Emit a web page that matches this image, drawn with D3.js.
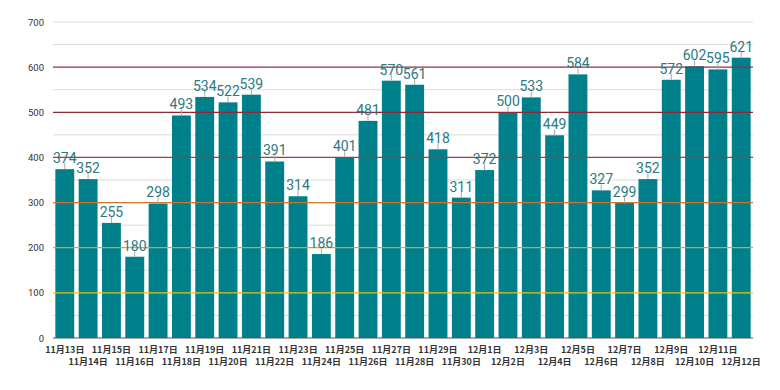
<!DOCTYPE html>
<html><head><meta charset="utf-8">
<script src="https://cdn.jsdelivr.net/npm/d3@7"></script>
<style>body{margin:0;background:#fff}svg{display:block}</style>
</head><body>
<svg id="c" width="780" height="390"></svg>
<script>
const categories = ["11月13日","11月14日","11月15日","11月16日","11月17日","11月18日","11月19日","11月20日","11月21日","11月22日","11月23日","11月24日","11月25日","11月26日","11月27日","11月28日","11月29日","11月30日","12月1日","12月2日","12月3日","12月4日","12月5日","12月6日","12月7日","12月8日","12月9日","12月10日","12月11日","12月12日"];
const values = [374,352,255,180,298,493,534,522,539,391,314,186,401,481,570,561,418,311,372,500,533,449,584,327,299,352,572,602,595,621];
const yTicks = [0,100,200,300,400,500,600,700];
const minorTicks = [50,150,250,350,450,550,650];
const bandLines = [
  {v:100,c:"#e6c619"},{v:200,c:"#d6a526"},{v:300,c:"#d2742e"},
  {v:400,c:"#c0302e"},{v:500,c:"#8e2a38"},{v:600,c:"#8c3048"}
];
const svg = d3.select("#c");
const m = {l:53,r:27,t:22,b:52};
const W = 780, H = 390;
const x = d3.scaleBand().domain(categories).range([m.l, W-m.r]).paddingInner(0.19).paddingOuter(0.1);
const y = d3.scaleLinear().domain([0,700]).range([338,22]);
// light grid
svg.append("g").selectAll("line").data(minorTicks.concat([700])).join("line")
  .attr("x1",m.l).attr("x2",W-m.r).attr("y1",d=>y(d)).attr("y2",d=>y(d))
  .attr("stroke","#dcdcdc").attr("stroke-width",1);
// bars
svg.append("g").selectAll("rect").data(values).join("rect")
  .attr("x",(d,i)=>x(categories[i])).attr("width",x.bandwidth())
  .attr("y",d=>y(d)).attr("height",d=>y(0)-y(d)).attr("fill","#00808a");
// colored lines on top
svg.append("g").selectAll("line").data(bandLines).join("line")
  .attr("x1",m.l).attr("x2",W-m.r).attr("y1",d=>y(d.v)).attr("y2",d=>y(d.v))
  .attr("stroke",d=>d.c).attr("stroke-width",1.3);
// baseline
svg.append("line").attr("x1",m.l).attr("x2",W-m.r).attr("y1",y(0)).attr("y2",y(0))
  .attr("stroke","#555").attr("stroke-width",1);
// y labels
svg.append("g").selectAll("text").data(yTicks).join("text")
  .attr("x",44).attr("y",d=>y(d)+3.5).attr("text-anchor","end")
  .attr("font-family","Roboto, Arial, sans-serif").attr("font-size",9.5).attr("fill","#333")
  .text(d=>d);
// leader lines + value labels
const lab = svg.append("g");
lab.selectAll("line").data(values).join("line")
  .attr("x1",(d,i)=>x(categories[i])+x.bandwidth()/2).attr("x2",(d,i)=>x(categories[i])+x.bandwidth()/2)
  .attr("y1",d=>y(d)-6).attr("y2",d=>y(d)).attr("stroke","#aaa").attr("stroke-width",1);
lab.selectAll("text").data(values).join("text")
  .attr("x",(d,i)=>x(categories[i])+x.bandwidth()/2).attr("y",d=>y(d)-6)
  .attr("text-anchor","middle").attr("font-family","Roboto, Arial, sans-serif")
  .attr("font-size",14).attr("fill","#2b7a80").text(d=>d);
// x labels
svg.append("g").selectAll("text").data(categories).join("text")
  .attr("x",d=>x(d)+x.bandwidth()/2).attr("y",(d,i)=> i%2===0 ? 352.5 : 364.5)
  .attr("text-anchor","middle").attr("font-family","'Noto Sans CJK JP', sans-serif")
  .attr("font-size",9).attr("font-weight","bold").attr("fill","#333").text(d=>d);
</script>
</body></html>
